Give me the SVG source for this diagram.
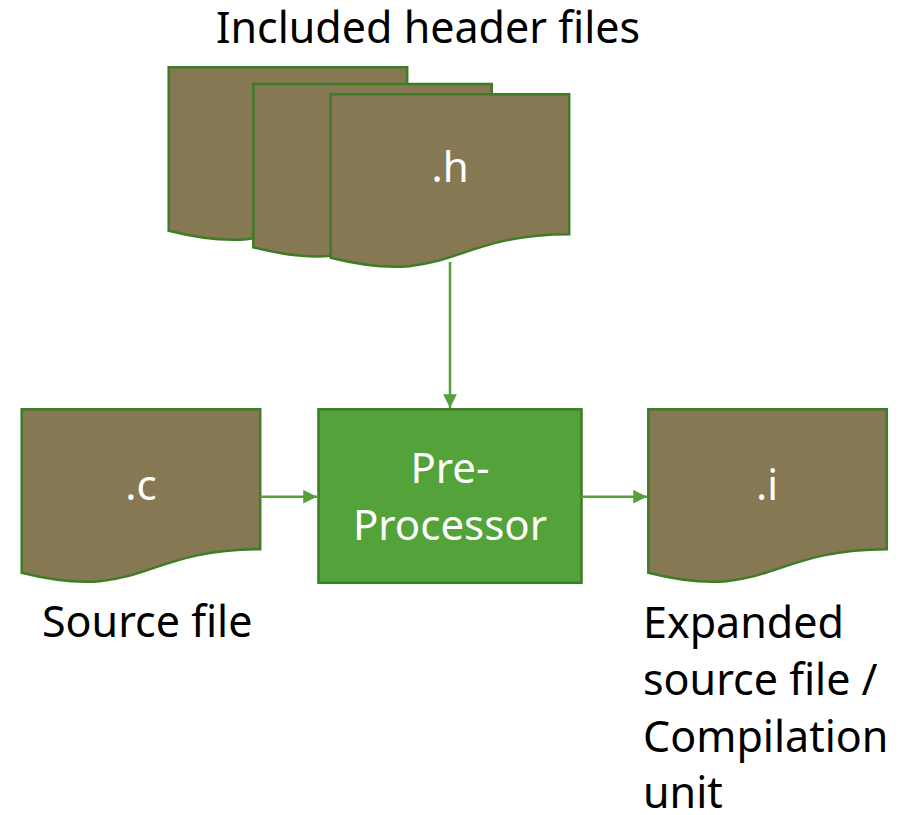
<svg xmlns="http://www.w3.org/2000/svg" width="913" height="815" viewBox="0 0 913 815">
<defs>
<style>
.doc{fill:#857852;stroke:#3E7C27;stroke-width:2.5}
.proc{fill:#54A23A;stroke:#3E7C27;stroke-width:2.5}
.lbl{font-family:"Noto Sans","Open Sans",sans-serif;font-size:43px;fill:#000}
.in{font-family:"Noto Sans","Open Sans",sans-serif;font-size:42px;fill:#fff;text-anchor:middle}
.conn{stroke:#55A03A;stroke-width:2.5;fill:none}
</style>
<marker id="arr" viewBox="0 0 10 10" refX="10" refY="5" markerWidth="5.5" markerHeight="5.5" markerUnits="strokeWidth" orient="auto">
<path d="M0,0 L10,5 L0,10 z" fill="#55A03A"/>
</marker>
<path id="docshape" d="M0,0 H238.5 V140 C119.25,140 119.25,193.3 0,163.4 Z"/>
</defs>
<text class="lbl" x="428" y="43" text-anchor="middle">Included header files</text>
<g id="header1"><use href="#docshape" class="doc" transform="translate(168.7,67.3)"/></g>
<g id="header2"><use href="#docshape" class="doc" transform="translate(253.3,84)"/></g>
<g id="header3"><use href="#docshape" class="doc" transform="translate(330.7,94.3)"/><text class="in" x="450" y="182">.h</text></g>
<g id="source"><use href="#docshape" class="doc" transform="translate(21.7,409.3)"/><text class="in" x="141" y="500">.c</text><text class="lbl" x="42" y="637">Source file</text></g>
<g id="preprocessor"><rect class="proc" x="318.5" y="409.3" width="263" height="173.5"/><text class="in" x="450" y="483">Pre-</text><text class="in" x="450" y="540">Processor</text></g>
<g id="expanded"><use href="#docshape" class="doc" transform="translate(648.3,409.3)"/><text class="in" x="767" y="500">.i</text>
<text class="lbl" x="643" y="638">Expanded</text><text class="lbl" x="643" y="695">source file /</text><text class="lbl" x="643" y="752">Compilation</text><text class="lbl" x="643" y="808">unit</text></g>
<g id="connectors">
<line class="conn" x1="450" y1="262" x2="450" y2="408" marker-end="url(#arr)"/>
<line class="conn" x1="260.2" y1="496.7" x2="317" y2="496.7" marker-end="url(#arr)"/>
<line class="conn" x1="581.5" y1="496.7" x2="647" y2="496.7" marker-end="url(#arr)"/>
</g>
</svg>
